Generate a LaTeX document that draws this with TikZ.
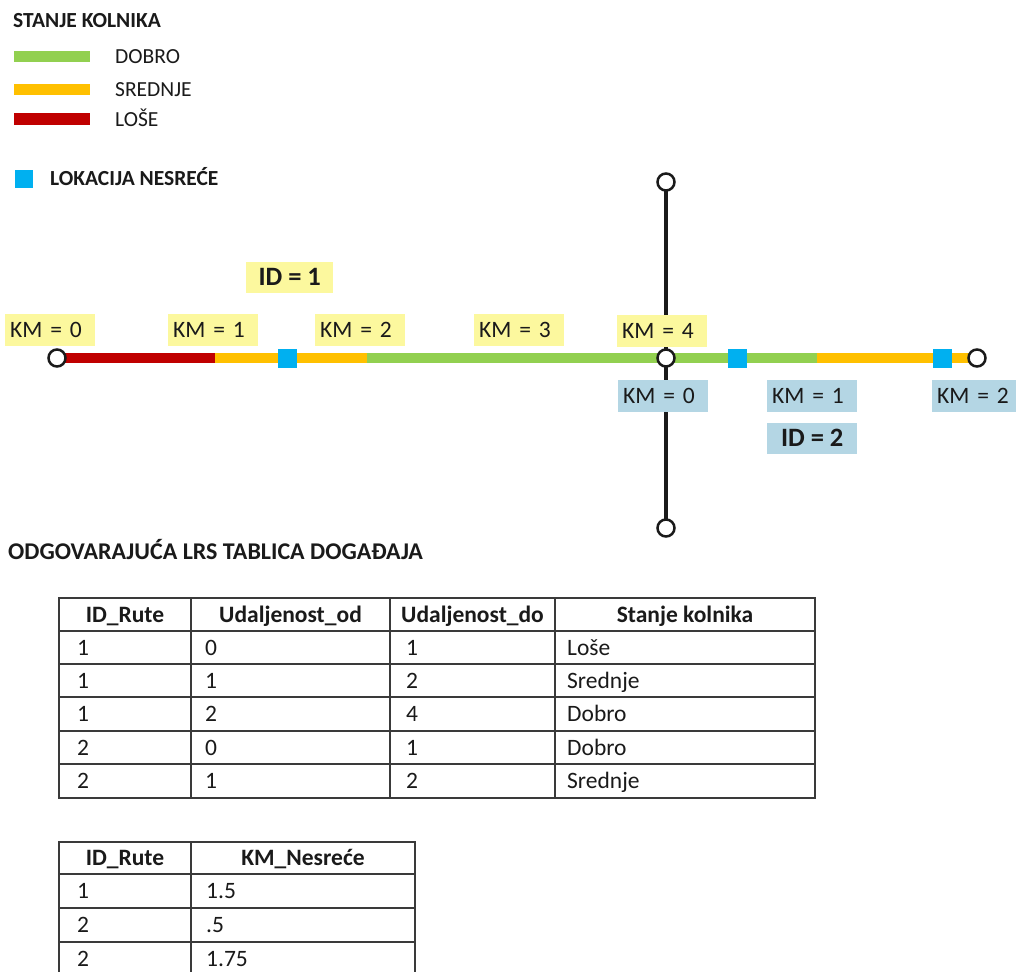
\documentclass[tikz,border=0pt]{standalone}
\usepackage{fontspec}
\setmainfont{Carlito}
\usetikzlibrary{backgrounds}
\definecolor{cgood}{HTML}{92D050}
\definecolor{cmid}{HTML}{FFC000}
\definecolor{cbad}{HTML}{C00000}
\definecolor{cacc}{HTML}{00B0F0}
\definecolor{ylab}{HTML}{FCF89E}
\definecolor{blab}{HTML}{B4D6E4}
\definecolor{ink}{HTML}{1A1A1A}
\definecolor{grid}{HTML}{3A3A3A}
\tikzset{
  legtxt/.style={anchor=base west, inner sep=0pt, text=ink, font=\fontsize{21.5}{26}\selectfont},
  legbold/.style={anchor=base west, inner sep=0pt, text=ink, font=\bfseries\fontsize{21.5}{26}\selectfont},
  legline/.style={line width=11pt},
  road/.style={line width=10pt},
  vline/.style={line width=3.5pt, draw=ink},
  endpt/.style={circle, draw=ink, line width=2.5pt, fill=white, minimum size=17pt, inner sep=0pt},
  accident/.style={fill=cacc, minimum size=19pt, inner sep=0pt},
  kmlab/.style={anchor=north west, text width=80pt, inner xsep=5pt, inner ysep=0pt,
    minimum height=32pt, align=left, text=ink, text height=15.1pt, text depth=1.5pt,
    font=\fontsize{23.5}{28}\selectfont},
  kmy/.style={kmlab, fill=ylab},
  kmb/.style={kmlab, fill=blab},
  idlab/.style={anchor=north west, inner xsep=4pt, inner ysep=0pt, minimum height=31pt,
    text=ink, text height=17pt, text depth=1.5pt,
    font=\bfseries\fontsize{26.5}{31}\selectfont},
  tbl/.style={line width=1.8pt, draw=grid},
  thead/.style={inner sep=0pt, text=ink, text height=15.1pt, text depth=0pt,
    font=\bfseries\fontsize{23.5}{28}\selectfont},
  tcell/.style={anchor=west, inner sep=0pt, text=ink, text height=15.1pt, text depth=0pt,
    font=\fontsize{23.5}{28}\selectfont},
}
\begin{document}
\begin{tikzpicture}[x=1pt,y=-1pt]
\useasboundingbox (0,0) rectangle (1016,971);
\begin{pgfonlayer}{background}
  \fill[white] (0,0) rectangle (1016,971);
\end{pgfonlayer}

% ---------- legend ----------
\node[legbold] (legtitle) at (13,27.5) {STANJE KOLNIKA};
\coordinate (lg1) at (14,56.5);  \coordinate (lg2) at (90,56.5);
\coordinate (lo1) at (14,89.5);  \coordinate (lo2) at (90,89.5);
\coordinate (lr1) at (14,119);   \coordinate (lr2) at (90,119);
\draw[legline, cgood] (lg1) -- (lg2);
\draw[legline, cmid]  (lo1) -- (lo2);
\draw[legline, cbad]  (lr1) -- (lr2);
\node[legtxt] (legdobro) at (115,64) {DOBRO};
\node[legtxt] (legsred)  at (115,96.5) {SREDNJE};
\node[legtxt] (leglose)  at (115,126.5) {LOŠE};
\node[accident, minimum size=18pt] (legacc) at (24,179) {};
\node[legbold] (legacctxt) at (50,185) {LOKACIJA NESREĆE};

% ---------- network ----------
\coordinate (r1s) at (57,358);
\coordinate (jn)  at (666,358);
\coordinate (r2e) at (977,358);
\coordinate (vt)  at (666,182);
\coordinate (vb)  at (666,528);
\coordinate (k1)  at (215,358);
\coordinate (k2)  at (367,358);
\coordinate (k21) at (817,358);
\begin{pgfonlayer}{background}
  \draw[vline] (vt) -- (vb);
  \draw[road, cbad]  (r1s) -- (k1);
  \draw[road, cmid]  (k1) -- (k2);
  \draw[road, cgood] (k2) -- (jn) -- (k21);
  \draw[road, cmid]  (k21) -- (r2e);
\end{pgfonlayer}

% labels route 1
\node[idlab, fill=ylab, minimum width=87pt] (id1) at (246,262) {ID = 1};
\node[kmy] (l10) at (5,314)   {KM = 0};
\node[kmy] (l11) at (168,314) {KM = 1};
\node[kmy] (l12) at (315,314) {KM = 2};
\node[kmy] (l13) at (474,314) {KM = 3};
\node[kmy] (l14) at (617,315) {KM = 4};
% labels route 2
\node[kmb] (l20) at (618,380) {KM = 0};
\node[kmb] (l21) at (767,380) {KM = 1};
\node[kmb] (l22) at (932,380) {KM = 2};
\node[idlab, fill=blab, minimum width=90pt] (id2) at (767,423) {ID = 2};

% end points
\node[endpt] (n1) at (r1s) {};
\node[endpt] (n2) at (jn)  {};
\node[endpt] (n3) at (r2e) {};
\node[endpt] (n4) at (vt)  {};
\node[endpt] (n5) at (vb)  {};
% accidents
\node[accident] (a1) at (287,358) {};
\node[accident] (a2) at (737,358) {};
\node[accident] (a3) at (942,358) {};

% ---------- heading ----------
\node[anchor=base west, inner sep=0pt, text=ink, font=\bfseries\fontsize{24}{29}\selectfont]
  (head) at (8,559) {ODGOVARAJUĆA LRS TABLICA DOGAĐAJA};

% ---------- table 1 ----------
\draw[tbl] (59,598) rectangle (815,798);
\foreach \yy in {631,664,697,731,764} { \draw[tbl] (59,\yy) -- (815,\yy); }
\foreach \xx in {191,390,555} { \draw[tbl] (\xx,598) -- (\xx,798); }
\node[thead] (ha) at (125,614.5) {ID\_Rute};
\node[thead] (hb) at (290.5,614.5) {Udaljenost\_od};
\node[thead] (hc) at (472.5,614.5) {Udaljenost\_do};
\node[thead] (hd) at (685,614.5) {Stanje kolnika};
\foreach \r/\yy/\a/\b/\c/\d in {1/647.5/1/0/1/Loše, 2/680.5/1/1/2/Srednje, 3/714/1/2/4/Dobro, 4/747.5/2/0/1/Dobro, 5/781/2/1/2/Srednje} {
  \node[tcell] (ta\r) at (77,\yy)  {\a};
  \node[tcell] (tb\r) at (205,\yy) {\b};
  \node[tcell] (tc\r) at (406,\yy) {\c};
  \node[tcell] (td\r) at (567,\yy) {\d};
}

% ---------- table 2 ----------
\draw[tbl] (59,976) -- (59,842) -- (415,842) -- (415,976);
\foreach \yy in {874,908,942,976} { \draw[tbl] (59,\yy) -- (415,\yy); }
\draw[tbl] (191,842) -- (191,976);
\node[thead] (ga) at (125,858) {ID\_Rute};
\node[thead] (gb) at (303,858) {KM\_Nesreće};
\foreach \r/\yy/\a/\b in {1/891/1/1.5, 2/925/2/.5, 3/959/2/1.75} {
  \node[tcell] (ua\r) at (77,\yy)  {\a};
  \node[tcell] (ub\r) at (206,\yy) {\b};
}
\end{tikzpicture}
\end{document}
